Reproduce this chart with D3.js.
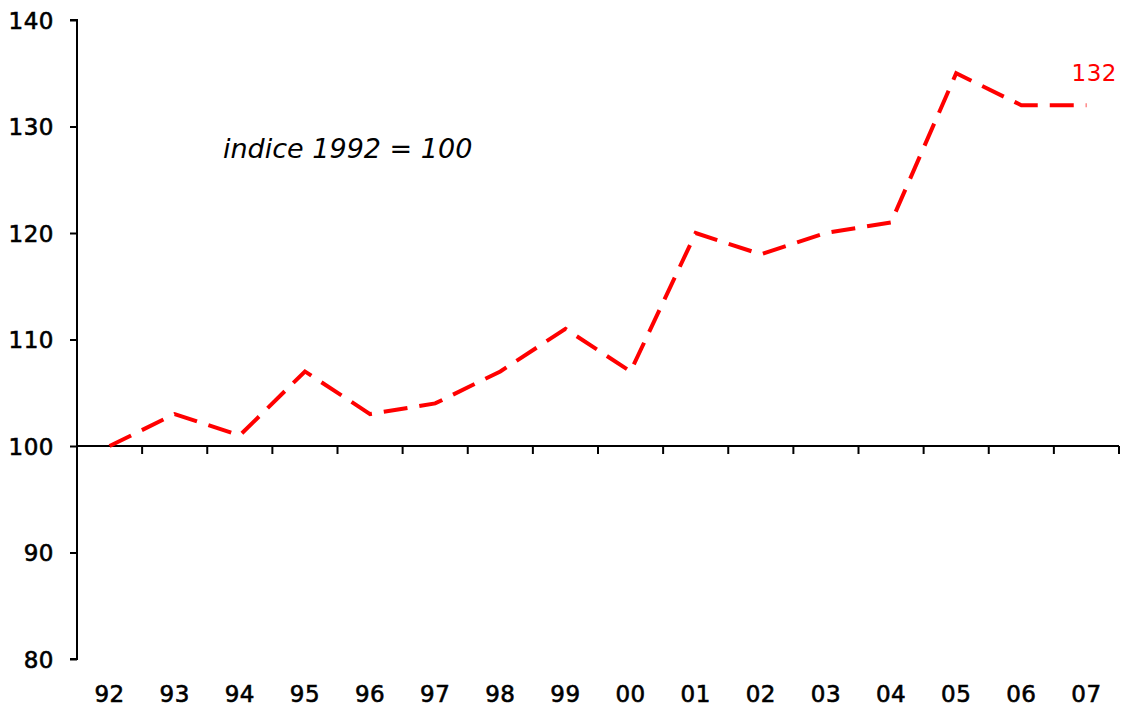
<!DOCTYPE html>
<html>
<head>
<meta charset="utf-8">
<script src="https://cdn.jsdelivr.net/npm/d3@7"></script>
<style>
  body { margin: 0; background: #fff; }
  text { font-family: "DejaVu Sans", "Lato", sans-serif; }
</style>
</head>
<body>
<svg id="chart" width="1130" height="709"></svg>
<script>
const years = ["92","93","94","95","96","97","98","99","00","01","02","03","04","05","06","07"];
const values = [100, 103, 101, 107, 103, 104, 107, 111, 107, 120, 118, 120, 121, 135, 132, 132];
const yTicks = [80, 90, 100, 110, 120, 130, 140];

const padLeft = 77, padRight = 1119, padTop = 20, padBottom = 659;

const svg = d3.select("#chart");

const x = d3.scaleBand().domain(years).range([padLeft, padRight]);
const y = d3.scaleLinear().domain([80, 140]).range([padBottom, padTop]);

// y axis
const yAxis = svg.append("g")
  .attr("transform", `translate(${padLeft},0)`)
  .call(d3.axisLeft(y).tickValues(yTicks).tickSize(7));
yAxis.select(".domain").attr("stroke", "#000").attr("stroke-width", 2).attr("d", `M-7,${padTop}H0V${padBottom}H-7`);
yAxis.selectAll(".tick line").attr("stroke-width", 2);
yAxis.selectAll(".tick text")
  .attr("font-size", 23).attr("fill", "#000")
  .attr("stroke", "#000").attr("stroke-width", 0.6)
  .attr("letter-spacing", 0.5).attr("x", -23).attr("dy", "0.36em");

// x axis at 100
const xAxis = svg.append("g")
  .attr("transform", `translate(0,${y(100)})`);
xAxis.append("line")
  .attr("x1", padLeft).attr("x2", padRight)
  .attr("stroke", "#000").attr("stroke-width", 2);
xAxis.selectAll("line.tk")
  .data(years)
  .join("line")
  .attr("class", "tk")
  .attr("x1", d => x(d) + x.bandwidth())
  .attr("x2", d => x(d) + x.bandwidth())
  .attr("y1", 0).attr("y2", 8)
  .attr("stroke", "#000").attr("stroke-width", 2);

// year labels at bottom
svg.append("g").selectAll("text")
  .data(years)
  .join("text")
  .attr("x", d => x(d) + x.bandwidth() / 2)
  .attr("y", 702)
  .attr("text-anchor", "middle")
  .attr("font-size", 23)
  .attr("stroke", "#000").attr("stroke-width", 0.6)
  .attr("letter-spacing", 0.5)
  .text(d => d);

// line
const line = d3.line()
  .x((d, i) => x(years[i]) + x.bandwidth() / 2)
  .y(d => y(d));

svg.append("path")
  .datum(values)
  .attr("d", line)
  .attr("fill", "none")
  .attr("stroke", "#ff0000")
  .attr("stroke-width", 4)
  .attr("stroke-dasharray", "24,12");

// end label
svg.append("text")
  .attr("x", 1117).attr("y", 81)
  .attr("text-anchor", "end")
  .attr("fill", "#ff0000")
  .attr("font-size", 23)
  .attr("letter-spacing", 0.5)
  .text(values[values.length - 1]);

// annotation
svg.append("text")
  .attr("x", 223).attr("y", 158)
  .attr("font-size", 27).attr("font-style", "italic")
  .text("indice 1992 = 100");
</script>
</body>
</html>
